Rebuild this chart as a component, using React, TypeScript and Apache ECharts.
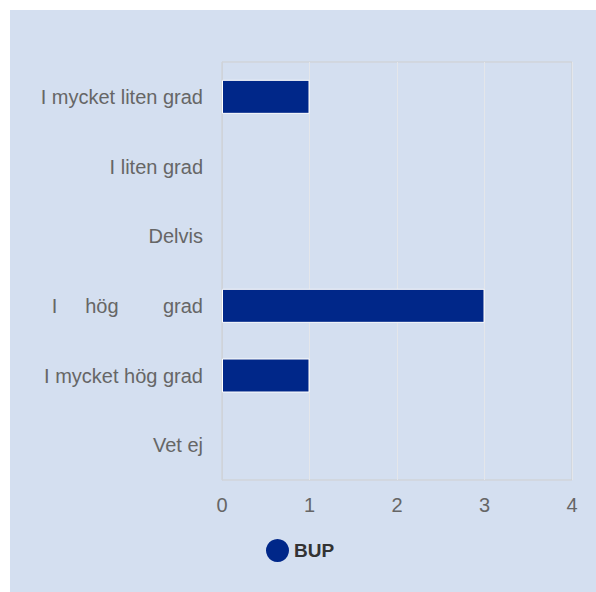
import React, { useEffect, useRef } from "react";
import * as echarts from "echarts";

const categories = [
  "I mycket liten grad",
  "I liten grad",
  "Delvis",
  "I     hög        grad",
  "I mycket hög grad",
  "Vet ej",
];
const seriesName = "BUP";
const bupValues = [1, 0, 0, 3, 1, 0];
const xTicks = { min: 0, max: 4, interval: 1 };

export default function App() {
  const ref = useRef<HTMLDivElement>(null);
  useEffect(() => {
    if (!ref.current) return;
    const chart = echarts.init(ref.current, undefined, { renderer: "svg" });
    chart.setOption({
      animation: false,
      backgroundColor: "#d4dff0",
      textStyle: { fontFamily: "Liberation Sans, Arial, sans-serif" },
      grid: { left: 212, right: 24, top: 52, bottom: 112, show: true, borderColor: "#cfcfcf", borderWidth: 1, backgroundColor: "transparent" },
      legend: {
        data: [{ name: seriesName, icon: "circle" }],
        left: 251,
        top: 524,
        itemWidth: 23,
        itemHeight: 23,
        itemGap: 7,
        itemStyle: { borderWidth: 0 },
        textStyle: { fontSize: 19, fontWeight: "bold", color: "#333333", fontFamily: "Liberation Sans, Arial, sans-serif" },
      },
      xAxis: {
        type: "value",
        min: xTicks.min,
        max: xTicks.max,
        interval: xTicks.interval,
        axisLine: { show: false },
        axisTick: { show: false },
        splitLine: { show: true, lineStyle: { color: "#e4e6ea", width: 1 } },
        axisLabel: { fontSize: 20, color: "#666666", margin: 15 },
      },
      yAxis: {
        type: "category",
        data: categories,
        inverse: true,
        axisLine: { show: true, lineStyle: { color: "#cfd3da" } },
        axisTick: { show: false },
        axisLabel: { fontSize: 20, color: "#666666", margin: 19, padding: [4, 0, 0, 0] },
      },
      series: [
        {
          name: seriesName,
          type: "bar",
          data: bupValues.map((v) => ({ value: v, itemStyle: { borderWidth: v === 0 ? 0 : 1 } })),
          barWidth: 34,
          itemStyle: { color: "#002789", borderColor: "#ffffff", borderWidth: 1 },
        },
      ],
    });
    return () => chart.dispose();
  }, []);
  return (
    <div style={{ position: "fixed", left: 0, top: 0, width: 596, height: 592, background: "#ffffff" }}>
      <div ref={ref} style={{ position: "absolute", left: 10, top: 10, width: 586, height: 582 }} />
    </div>
  );
}
